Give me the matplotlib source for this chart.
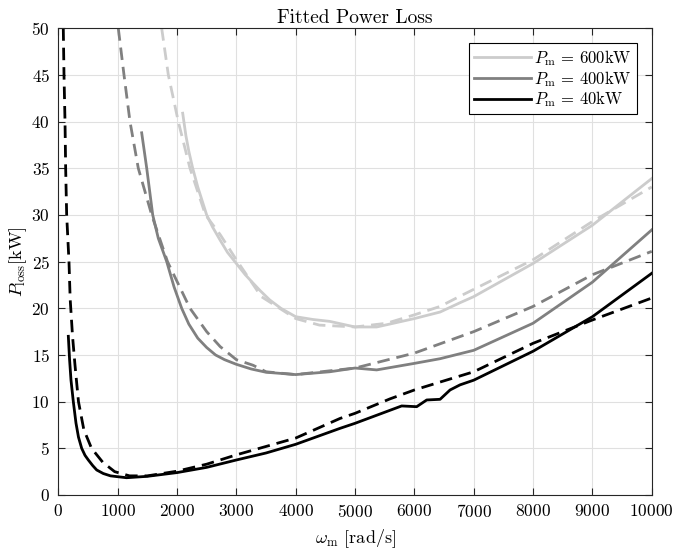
import numpy as np
import matplotlib
matplotlib.use("Agg")
from matplotlib import pyplot as plt

plt.rcParams['font.family'] = 'serif'
plt.rcParams['font.serif'] = ['cmr10']
plt.rcParams['mathtext.fontset'] = 'cm'
plt.rcParams['axes.formatter.use_mathtext'] = True

# solid curves (data)
w_600 = [2096, 2150, 2200, 2265, 2350, 2500, 2600, 2727, 2850, 3000, 3150, 3281, 3400, 3562, 3750, 4000, 4292, 4573,
         5000, 5365, 6000, 6433, 6770, 7000, 8000, 9000, 10000]
p_600 = [40.9, 38.5, 36.8, 35.0, 33.0, 30.0, 28.7, 27.3, 26.0, 24.8, 23.6, 22.7, 21.9, 20.9, 20.0, 19.1, 18.8, 18.6,
         18.0, 18.0, 18.9, 19.6, 20.6, 21.25, 24.8, 28.9, 33.9]

w_400 = [1405, 1490, 1591, 1685, 1827, 1950, 2079, 2200, 2350, 2500, 2650, 2800, 3000, 3250, 3500, 4000, 4573, 5000,
         5365, 6000, 6433, 7000, 8000, 9000, 10000]
p_400 = [38.8, 35.0, 30.0, 27.5, 25.0, 22.3, 20.0, 18.3, 16.8, 15.8, 15.0, 14.5, 14.0, 13.5, 13.15, 12.9, 13.2, 13.6,
         13.4, 14.1, 14.6, 15.5, 18.4, 22.8, 28.4]

w_40 = [169, 190, 214, 253, 298, 340, 394, 450, 506, 580, 647, 758, 880, 1000, 1150, 1500, 2000, 2500, 3000, 3500,
        4000, 4747, 5000, 5786, 6039, 6208, 6433, 6601, 6770, 7000, 8000, 9000, 10000]
p_40 = [17.0, 14.5, 12.3, 10.0, 7.7, 6.2, 5.0, 4.25, 3.75, 3.15, 2.68, 2.3, 2.05, 1.96, 1.85, 2.0, 2.4, 2.96, 3.75, 4.5,
        5.43, 7.14, 7.68, 9.54, 9.46, 10.18, 10.25, 11.25, 11.8, 12.3, 15.4, 19.1, 23.75]

# dashed curves (fit)
wf_600 = [1742, 1854, 2022, 2219, 2480, 2727, 3000, 3421, 4000, 4400, 5000, 5534, 6000, 6433, 6770, 8000, 9000, 10000]
pf_600 = [50.0, 45.0, 40.0, 35.0, 30.0, 27.9, 25.2, 21.25, 18.9, 18.2, 18.0, 18.4, 19.3, 20.2, 21.3, 25.2, 29.3, 33.0]

wf_400 = [1011, 1107, 1208, 1348, 1574, 1840, 2219, 2500, 2727, 3000, 3281, 3500, 4000, 5000, 6000, 7000, 8000, 9000, 10000]
pf_400 = [50.0, 45.0, 40.0, 35.0, 30.0, 25.0, 20.0, 17.5, 15.9, 14.5, 13.9, 13.2, 12.9, 13.6, 15.2, 17.5, 20.2, 23.6, 26.1]

wf_40 = [84, 96, 113, 124, 141, 180, 200, 240, 280, 340, 430, 560, 750, 950, 1200, 1500, 2000, 2500, 3000,
         4000, 4747, 5000, 5590, 6000, 6433, 7000, 8000, 9000, 10000]
pf_40 = [50.0, 45.0, 40.0, 35.0, 30.0, 25.0, 21.0, 17.0, 14.0, 10.0, 7.0, 5.0, 3.5, 2.5, 2.05, 2.05, 2.55, 3.3, 4.3,
         6.1, 8.2, 8.75, 10.3, 11.25, 12.1, 13.2, 16.25, 18.75, 21.1]

c600 = (0.8, 0.8, 0.8)
c400 = (0.5, 0.5, 0.5)
c40 = (0.0, 0.0, 0.0)
dash = (4.5, 2.5)

fig = plt.figure(figsize=(6.74, 5.54), dpi=100)
ax = fig.add_axes([0.0865, 0.1065, 0.8805, 0.8425])

ax.plot(w_600, p_600, color=c600, lw=2, label=r'$P_\mathrm{m}\,=\,600\mathrm{kW}$')
ax.plot(w_400, p_400, color=c400, lw=2, label=r'$P_\mathrm{m}\,=\,400\mathrm{kW}$')
ax.plot(w_40, p_40, color=c40, lw=2, label=r'$P_\mathrm{m}\,=\,40\mathrm{kW}$')
ax.plot(wf_600, pf_600, color=c600, lw=2, dashes=dash)
ax.plot(wf_400, pf_400, color=c400, lw=2, dashes=dash)
ax.plot(wf_40, pf_40, color=c40, lw=2, dashes=dash)

ax.set_xlim(0, 10000)
ax.set_ylim(0, 50)
ax.set_xticks(np.arange(0, 10001, 1000))
ax.set_yticks(np.arange(0, 51, 5))
ax.grid(True, color=(0.88, 0.88, 0.88), lw=0.8)
ax.set_axisbelow(True)
ax.tick_params(direction='in', top=True, right=True, length=5, labelsize=12.5, pad=6,
               color=(0.15, 0.15, 0.15))
for s in ax.spines.values():
    s.set_color((0.15, 0.15, 0.15))
    s.set_linewidth(0.8)

ax.set_title('Fitted Power Loss', fontsize=14, pad=4)
ax.set_xlabel(r'$\omega_\mathrm{m}$ [rad/s]', fontsize=13, labelpad=5)
ax.set_ylabel(r'$P_\mathrm{loss}$[kW]', fontsize=13, labelpad=2)

leg = ax.legend(loc='upper right', fontsize=12, fancybox=False, framealpha=1, edgecolor='black',
                handlelength=3.4, borderaxespad=0.9, labelspacing=0.05, handletextpad=0.2, borderpad=0.3)
leg.get_frame().set_linewidth(0.8)

plt.savefig('out.png', dpi=100)
